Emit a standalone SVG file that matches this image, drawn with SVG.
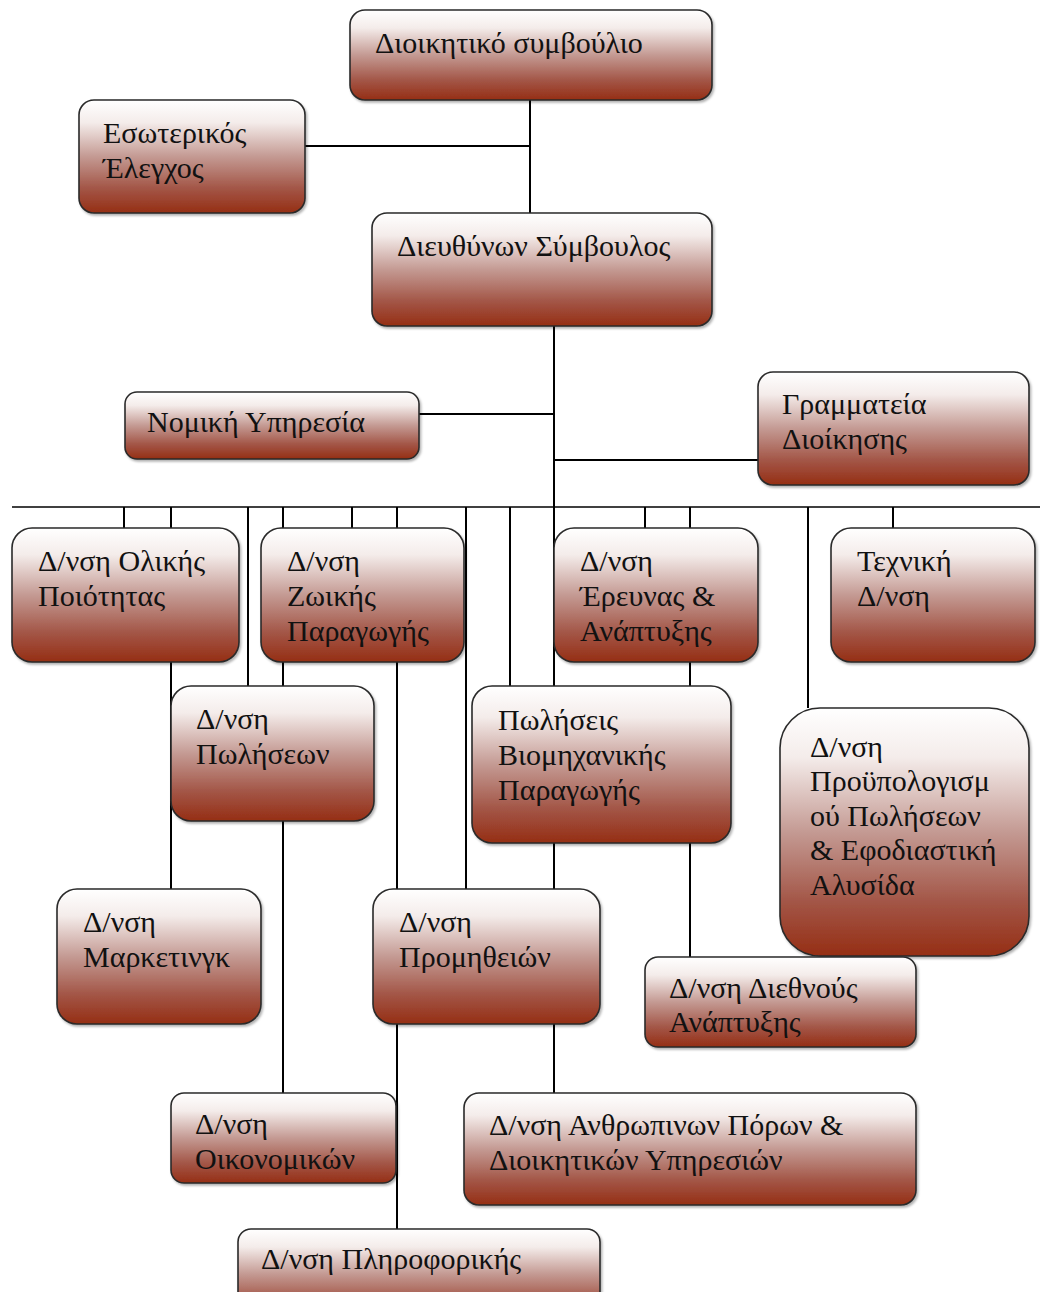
<svg xmlns="http://www.w3.org/2000/svg" width="1040" height="1292" viewBox="0 0 1040 1292">
<defs>
<linearGradient id="g" x1="0" y1="0" x2="0" y2="1">
<stop offset="0" stop-color="#ffffff"/>
<stop offset="0.2" stop-color="#f4ecea"/>
<stop offset="0.5" stop-color="#c49a93"/>
<stop offset="0.78" stop-color="#a35647"/>
<stop offset="1" stop-color="#952e14"/>
</linearGradient>
<filter id="sh" x="-5%" y="-5%" width="112%" height="115%">
<feDropShadow dx="1.5" dy="2" stdDeviation="1.2" flood-color="#000" flood-opacity="0.3"/>
</filter>
</defs>
<style>
.b{fill:url(#g);stroke:#2a2a2a;stroke-width:1.6;filter:url(#sh)}
.t{font-family:"Liberation Serif","DejaVu Serif",serif;font-size:30px;fill:#111}
.c line{stroke:#000;stroke-width:2}
</style>
<g class="c" id="connectors">
<line x1="530" y1="100" x2="530" y2="213"/>
<line x1="305" y1="146" x2="530" y2="146"/>
<line x1="554" y1="326" x2="554" y2="1093"/>
<line x1="419" y1="414" x2="554" y2="414"/>
<line x1="554" y1="460" x2="758" y2="460"/>
<line x1="12" y1="507" x2="1040" y2="507" style="stroke-width:1.6"/>
<line x1="124" y1="507" x2="124" y2="528"/>
<line x1="171" y1="507" x2="171" y2="889"/>
<line x1="248" y1="507" x2="248" y2="686"/>
<line x1="283" y1="507" x2="283" y2="1093"/>
<line x1="352" y1="507" x2="352" y2="528"/>
<line x1="397" y1="507" x2="397" y2="1229"/>
<line x1="466" y1="507" x2="466" y2="889"/>
<line x1="510" y1="507" x2="510" y2="686"/>
<line x1="645" y1="507" x2="645" y2="528"/>
<line x1="690" y1="507" x2="690" y2="957"/>
<line x1="808" y1="507" x2="808" y2="708"/>
<line x1="893" y1="507" x2="893" y2="528"/>
</g>
<g id="n1"><rect class="b" x="350" y="10" width="362" height="90" rx="15"/><text class="t" x="375" y="53">Διοικητικό συμβούλιο</text></g>
<g id="n2"><rect class="b" x="79" y="100" width="226" height="113" rx="15"/><text class="t" x="103" y="143">Εσωτερικός</text><text class="t" x="103" y="178">Έλεγχος</text></g>
<g id="n3"><rect class="b" x="372" y="213" width="340" height="113" rx="15"/><text class="t" x="397" y="256">Διευθύνων Σύμβουλος</text></g>
<g id="n4"><rect class="b" x="125" y="392" width="294" height="67" rx="12"/><text class="t" x="147" y="432">Νομική Υπηρεσία</text></g>
<g id="n5"><rect class="b" x="758" y="372" width="271" height="113" rx="15"/><text class="t" x="782" y="414">Γραμματεία</text><text class="t" x="782" y="449">Διοίκησης</text></g>
<g id="n6"><rect class="b" x="12" y="528" width="227" height="134" rx="20"/><text class="t" x="38" y="571">Δ/νση Ολικής</text><text class="t" x="38" y="606">Ποιότητας</text></g>
<g id="n7"><rect class="b" x="261" y="528" width="203" height="134" rx="20"/><text class="t" x="287" y="571">Δ/νση</text><text class="t" x="287" y="606">Ζωικής</text><text class="t" x="287" y="641">Παραγωγής</text></g>
<g id="n8"><rect class="b" x="554" y="528" width="204" height="134" rx="20"/><text class="t" x="580" y="571">Δ/νση</text><text class="t" x="580" y="606">Έρευνας &amp;</text><text class="t" x="580" y="641">Ανάπτυξης</text></g>
<g id="n9"><rect class="b" x="831" y="528" width="204" height="134" rx="20"/><text class="t" x="857" y="571">Τεχνική</text><text class="t" x="857" y="606">Δ/νση</text></g>
<g id="n10"><rect class="b" x="171" y="686" width="203" height="135" rx="20"/><text class="t" x="196" y="729">Δ/νση</text><text class="t" x="196" y="764">Πωλήσεων</text></g>
<g id="n11"><rect class="b" x="472" y="686" width="259" height="157" rx="20"/><text class="t" x="498" y="730">Πωλήσεις</text><text class="t" x="498" y="765">Βιομηχανικής</text><text class="t" x="498" y="800">Παραγωγής</text></g>
<g id="n12"><rect class="b" x="780" y="708" width="249" height="248" rx="40"/><text class="t" x="810" y="757">Δ/νση</text><text class="t" x="810" y="791">Προϋπολογισμ</text><text class="t" x="810" y="826">ού Πωλήσεων</text><text class="t" x="810" y="860">&amp; Εφοδιαστική</text><text class="t" x="810" y="895">Αλυσίδα</text></g>
<g id="n13"><rect class="b" x="57" y="889" width="204" height="135" rx="20"/><text class="t" x="83" y="932">Δ/νση</text><text class="t" x="83" y="967">Μαρκετινγκ</text></g>
<g id="n14"><rect class="b" x="373" y="889" width="227" height="135" rx="20"/><text class="t" x="399" y="932">Δ/νση</text><text class="t" x="399" y="967">Προμηθειών</text></g>
<g id="n15"><rect class="b" x="645" y="957" width="271" height="90" rx="13"/><text class="t" x="669" y="998">Δ/νση Διεθνούς</text><text class="t" x="669" y="1032">Ανάπτυξης</text></g>
<g id="n16"><rect class="b" x="171" y="1093" width="225" height="90" rx="13"/><text class="t" x="195" y="1134">Δ/νση</text><text class="t" x="195" y="1169">Οικονομικών</text></g>
<g id="n17"><rect class="b" x="464" y="1093" width="452" height="112" rx="15"/><text class="t" x="489" y="1135">Δ/νση Ανθρωπινων Πόρων &amp;</text><text class="t" x="489" y="1170">Διοικητικών Υπηρεσιών</text></g>
<g id="n18"><rect class="b" x="238" y="1229" width="362" height="90" rx="13"/><text class="t" x="261" y="1269">Δ/νση Πληροφορικής</text></g>
</svg>
